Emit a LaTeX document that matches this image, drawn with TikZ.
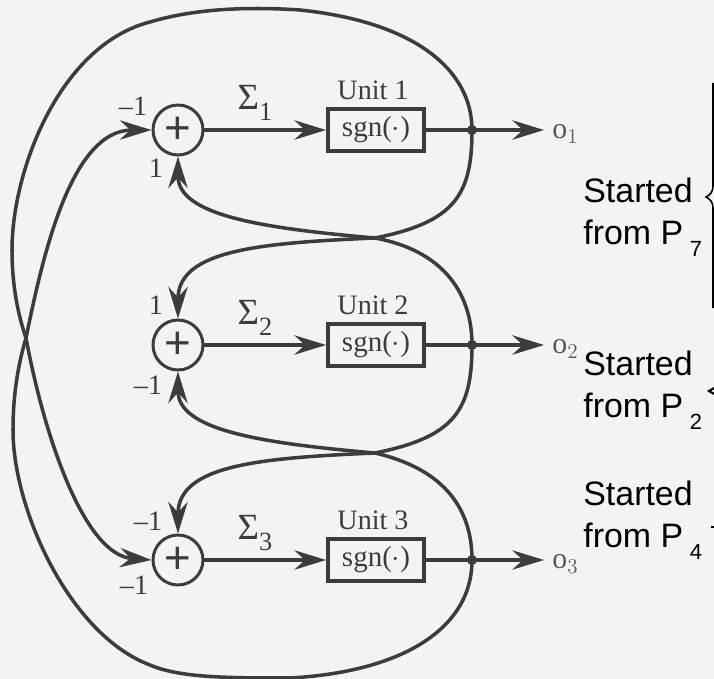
\documentclass[tikz,border=0pt]{standalone}
\usepackage{fontspec}
\usepackage{amsmath}
\usetikzlibrary{arrows.meta}
\setmainfont{Liberation Serif}
\newfontfamily\startfont{Liberation Sans}
\definecolor{ink}{HTML}{3C3C3C}
\definecolor{paper}{HTML}{F3F3F3}
\newcommand{\subnum}[1]{\hspace{.2em}\raisebox{-.36em}{\fontsize{12.5}{12.5}\selectfont #1}}
\begin{document}
\begin{tikzpicture}[x=0.02cm,y=-0.02cm,>={Stealth[length=18pt,width=11pt,inset=6pt]}]
                \tikzstyle{summer}=[circle,draw=ink,line width=1.7pt,fill=paper,minimum size=1cm,inner sep=0pt,text=ink,font=\startfont\fontsize{26}{26}\selectfont]
                \tikzstyle{unit}=[rectangle,draw=ink,line width=2.2pt,fill=paper,minimum width=1.92cm,minimum height=0.84cm,inner sep=0pt,text=ink,font=\fontsize{16.5}{16.5}\selectfont]
                \tikzstyle{joint}=[circle,fill=ink,minimum size=0.2cm,inner sep=0pt]
                \tikzstyle{wire}=[draw=ink,line width=2pt]
                \tikzstyle{tag}=[text=ink,inner sep=0pt,font=\fontsize{16}{16}\selectfont]
                \tikzstyle{started}=[anchor=west,align=left,inner sep=0pt,font=\startfont\fontsize{19.3}{23.8}\selectfont]
                \useasboundingbox[fill=paper] (0,0) rectangle (714,679);
                \foreach \num/\y in {1/130, 2/345, 3/560} {
                        \node[summer] (S-\num) at (178,\y) {+};
                        \node[unit] (U-\num) at (376,\y) {sgn($\cdot$)};
                        \node[joint] (D-\num) at (472,\y) {};
                        \coordinate (T-\num) at (544,\y);
                        \node[tag,anchor=west,font=\fontsize{17}{17}\selectfont] (O-\num) at (552,\y+4) {\textcolor{ink!85}{o$_{\num}$}};
                        \node[tag] (N-\num) at (373,\y-40) {Unit \num};
                        \node[tag,font=\fontsize{21}{21}\selectfont] (G-\num) at (255,\y-27) {Σ\raisebox{-.28em}{\fontsize{15}{15}\selectfont\num}};
                        \draw[wire,->] (S-\num) -- (U-\num);
                        \draw[wire] (U-\num) -- (D-\num.center);
                        \draw[wire,->] (D-\num.center) -- (T-\num);
                }
                \foreach \num/\x/\y in {1/375/238, 2/375/453}
                        \coordinate (X-\num) at (\x,\y);
                \coordinate (L) at (26,338);

                \draw[wire,->] (D-1.center) .. controls (472,70) and (415,22) .. (300,10)
                        .. controls (240,6) and (190,10) .. (150,22)
                        .. controls (60,45) and (12,170) .. (12,250)
                        .. controls (12,285) and (18,315) .. (L)
                        .. controls (45,440) and (85,555) .. (S-3.west);
                \draw[wire,->] (D-3.center) .. controls (472,630) and (400,672) .. (290,678)
                        .. controls (230,678) and (180,678) .. (150,665)
                        .. controls (70,635) and (13,510) .. (13,430)
                        .. controls (13,395) and (18,365) .. (L)
                        .. controls (42,260) and (70,130) .. (S-1.west);
                \draw[wire,->] (D-1.center) .. controls (472,195) and (455,222) .. (X-1)
                        .. controls (260,243) and (178,250) .. (S-2.north);
                \draw[wire,->] (D-2.center) .. controls (472,290) and (440,250) .. (X-1)
                        .. controls (260,228) and (178,215) .. (S-1.south);
                \draw[wire,->] (D-2.center) .. controls (472,410) and (455,437) .. (X-2)
                        .. controls (260,458) and (178,465) .. (S-3.north);
                \draw[wire,->] (D-3.center) .. controls (472,505) and (440,468) .. (X-2)
                        .. controls (260,443) and (178,430) .. (S-2.south);

                \foreach \name/\x/\y/\txt in {a/133/106/--1, b/156/168/1, c/156/305/1, d/148/385/--1, e/148/521/--1, f/134/585/--1}
                        \node[tag] (W-\name) at (\x,\y) {\txt};

                \node[started] (P-7) at (583,217) {Started\\from P\subnum{7}};
                \node[started] (P-2) at (583,390) {Started\\from P\subnum{2}};
                \node[started] (P-4) at (583,520) {Started\\from P\subnum{4}};

                \draw[black,line width=0.9pt] (713,83) -- (713,186) .. controls (713,192) and (710,195) .. (706,197)
                        .. controls (710,199) and (713,202) .. (713,208) -- (713,308);
                \draw[black,line width=1.2pt] (714,388) -- (709,391) -- (714,394);
                \draw[black,line width=1.2pt] (711,527) -- (714,527);
\end{tikzpicture}
\end{document}
